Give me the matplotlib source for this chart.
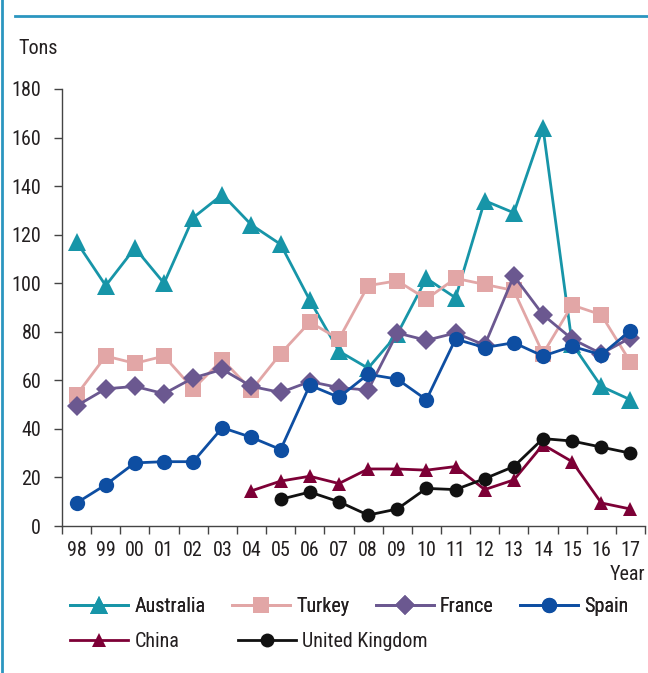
# Imports
import numpy as np
import matplotlib
matplotlib.use("Agg")
import matplotlib.pyplot as plt
from matplotlib.lines import Line2D

# -------------------- Data --------------------
years = ["98", "99", "00", "01", "02", "03", "04", "05", "06", "07",
         "08", "09", "10", "11", "12", "13", "14", "15", "16", "17"]

australia = [117, 99, 114.5, 100, 127, 136.5, 124, 116, 93, 72,
             65, 79, 102, 94, 134, 129, 164, 75, 57.5, 52]
turkey = [54, 70, 67, 70, 56.5, 68.5, 56, 71, 84, 77,
          99, 101, 93.5, 102, 99.5, 97, 71, 91, 87, 67.5]
france = [49.5, 56.5, 57.5, 54.5, 61, 64.5, 57.5, 55, 59.5, 57,
          56, 79.5, 76.5, 79.5, 74.5, 103, 87, 77, 71, 77.5]
spain = [9.5, 17, 26, 26.5, 26.5, 40.5, 36.5, 31.5, 58, 53,
         62.5, 60.5, 52, 77, 73.5, 75.5, 70, 74, 70.5, 80.5]
# China and United Kingdom start later (None = no value)
china = [None] * 6 + [14.5, 18.5, 20.5, 17.5, 23.5, 23.5, 23, 24.5, 15, 19, 33.5, 26.5, 9.5, 7]
uk = [None] * 7 + [11, 14, 10, 4.5, 7, 15.5, 15, 19.5, 24.5, 36, 35, 32.5, 30]

series_names = ["Australia", "Turkey", "France", "Spain", "China", "United Kingdom"]
series_values = [australia, turkey, france, spain, china, uk]
series_colors = ["#1795A8", "#E2A6A6", "#6B5890", "#0E4EA2", "#7D0036", "#111111"]
series_markers = ["^", "s", "D", "o", "^", "o"]
series_msize = [12.5, 11, 10.5, 11, 10.5, 10]

# -------------------- Style --------------------
plt.rcParams['font.family'] = ['Roboto Condensed', 'DejaVu Sans']
text_color = "#231F20"
frame_color = "#2B96C0"
fsize = 14.5

fig = plt.figure(figsize=(6.48, 6.73), dpi=100)
ax = fig.add_axes([0.0957, 0.2184, 0.8997, 0.6494])

x_values = np.arange(len(years))
handles = []
for name, vals, col, mk, ms in zip(series_names, series_values, series_colors,
                                   series_markers, series_msize):
    y = np.array([np.nan if v is None else v for v in vals], dtype=float)
    ln, = ax.plot(x_values, y, color=col, lw=2.0, marker=mk, ms=ms,
                  markeredgewidth=0, label=name)
    handles.append(ln)

# Axes
ax.set_xlim(-0.5, len(years) - 0.5)
ax.set_ylim(0, 180)
ax.set_yticks(np.arange(0, 181, 20))
ax.set_xticks(x_values)
ax.set_xticklabels(years)
ax.set_xticks(np.arange(-0.5, len(years), 1), minor=True)
ax.tick_params(axis="x", which="major", length=0, pad=11, labelsize=fsize, labelcolor=text_color)
ax.tick_params(axis="x", which="minor", length=6, width=1, color="#444444", direction="out")
ax.tick_params(axis="y", length=6, width=1, color="#444444", pad=9, labelsize=fsize, labelcolor=text_color)
for side in ["top", "right"]:
    ax.spines[side].set_visible(False)
for side in ["left", "bottom"]:
    ax.spines[side].set_color("#444444")
    ax.spines[side].set_linewidth(1)

# Axis titles
fig.text(18 / 648, 1 - 48 / 673, "Tons", fontsize=fsize, color=text_color, va="center", ha="left")
fig.text(645 / 648, 1 - 574 / 673, "Year", fontsize=fsize, color=text_color, va="center", ha="right")

# -------------------- Legend (two rows) --------------------
leg1 = fig.legend(handles=handles[:4], loc="upper left", bbox_to_anchor=(70 / 648, 1 - 597 / 673),
                  ncol=4, frameon=False, fontsize=fsize, handlelength=2.9, handletextpad=0.3,
                  columnspacing=1.3, borderpad=0, borderaxespad=0, labelcolor=text_color)
leg2 = fig.legend(handles=handles[4:], loc="upper left", bbox_to_anchor=(70 / 648, 1 - 632 / 673),
                  ncol=2, frameon=False, fontsize=fsize, handlelength=2.9, handletextpad=0.3,
                  columnspacing=2.9, borderpad=0, borderaxespad=0, labelcolor=text_color)
fig.add_artist(leg1)

# -------------------- Frame lines --------------------
fig.add_artist(Line2D([1.5 / 648, 1.5 / 648], [0, 1], color=frame_color, lw=2, transform=fig.transFigure))
fig.add_artist(Line2D([15 / 648, 1], [1 - 16 / 673, 1 - 16 / 673], color=frame_color, lw=2,
                      transform=fig.transFigure))

fig.savefig("out.png", dpi=100)
